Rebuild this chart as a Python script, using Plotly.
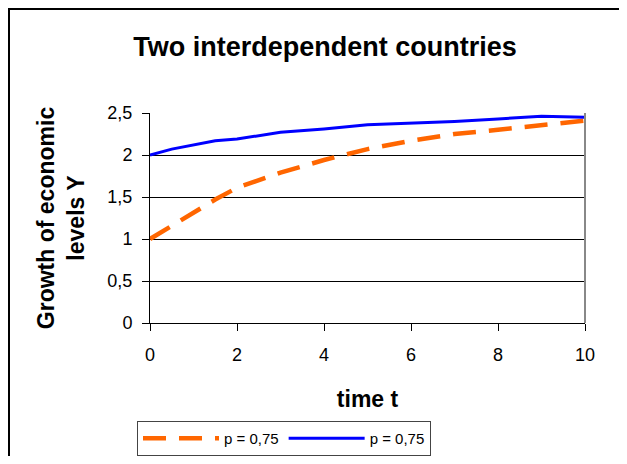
import plotly.graph_objects as go

t_orange = [0, 0.5, 1, 1.5, 2, 3, 4, 5, 6, 7, 8, 9, 10]
y_orange = [1.0, 1.16, 1.31, 1.47, 1.61, 1.79, 1.94, 2.07, 2.17, 2.25, 2.30, 2.35, 2.41]
t_blue = [0, 0.5, 1.5, 2, 3, 4, 5, 6, 7, 8, 9, 10]
y_blue = [2.0, 2.07, 2.17, 2.19, 2.27, 2.31, 2.36, 2.38, 2.40, 2.43, 2.46, 2.45]
series_names = ["p = 0,75", "p = 0,75"]
y_ticks = [0, 0.5, 1, 1.5, 2, 2.5]
y_tick_labels = ["0", "0,5", "1", "1,5", "2", "2,5"]
x_ticks = [0, 2, 4, 6, 8, 10]

font = "Liberation Sans, Arial, sans-serif"

# page is offset by the default 8px body margin
W, H = 611, 448
L, R, T, B = 142, 34, 105, 133
PW, PH = W - L - R, H - T - B

fig = go.Figure()
fig.add_trace(go.Scatter(x=t_orange, y=y_orange, mode="lines", name=series_names[0],
                         line=dict(color="#FF6600", width=4.5, dash="23px,13px")))
fig.add_trace(go.Scatter(x=t_blue, y=y_blue, mode="lines", name=series_names[1],
                         line=dict(color="#0000FF", width=3)))

fig.update_layout(
    width=W, height=H,
    margin=dict(l=L, r=R, t=T, b=B, autoexpand=False),
    paper_bgcolor="white", plot_bgcolor="white",
    font=dict(family=font, color="black"),
    title=dict(text="<b>Two interdependent countries</b>", x=317 / W, xanchor="center",
               y=1 - 39 / H, yanchor="middle", font=dict(size=27, family=font)),
    showlegend=True,
    legend=dict(orientation="h", xref="container", yref="container",
                x=129 / W, y=1 - 413 / H, yanchor="top", xanchor="left",
                bordercolor="#444444", borderwidth=1, bgcolor="white",
                font=dict(size=15, family=font), itemwidth=76, tracegroupgap=0),
    xaxis=dict(range=[0, 10], tickvals=x_ticks, showgrid=False, zeroline=False,
               showline=True, linecolor="black", linewidth=1, ticks="outside", ticklen=7,
               tickcolor="black", tickfont=dict(size=18, family=font), ticklabelstandoff=8,
               title=dict(text="<b>time t</b>", font=dict(size=23, family=font), standoff=27)),
    yaxis=dict(range=[0, 2.5], tickvals=y_ticks, ticktext=y_tick_labels, showgrid=True,
               gridcolor="black", gridwidth=1, zeroline=False, showline=True, linecolor="black",
               linewidth=1, ticks="outside", ticklen=7, tickcolor="black",
               tickfont=dict(size=18, family=font), ticklabelstandoff=6,
               title=dict(text="<b>Growth of economic<br>levels Y</b>",
                          font=dict(size=23, family=font), standoff=16)),
)

# plot area right border (gray)
fig.add_shape(type="line", xref="paper", yref="paper", x0=1, x1=1, y0=0, y1=1,
              line=dict(color="#888888", width=2))
# outer chart border (only left/top visible)
fig.add_shape(type="rect", xref="paper", yref="paper",
              x0=(0.5 - L) / PW, x1=(W + 20 - L) / PW,
              y0=(T + PH - (H + 20)) / PH, y1=(T + PH - 0.5) / PH,
              line=dict(color="black", width=3), layer="below")

fig.write_html("out.html")
